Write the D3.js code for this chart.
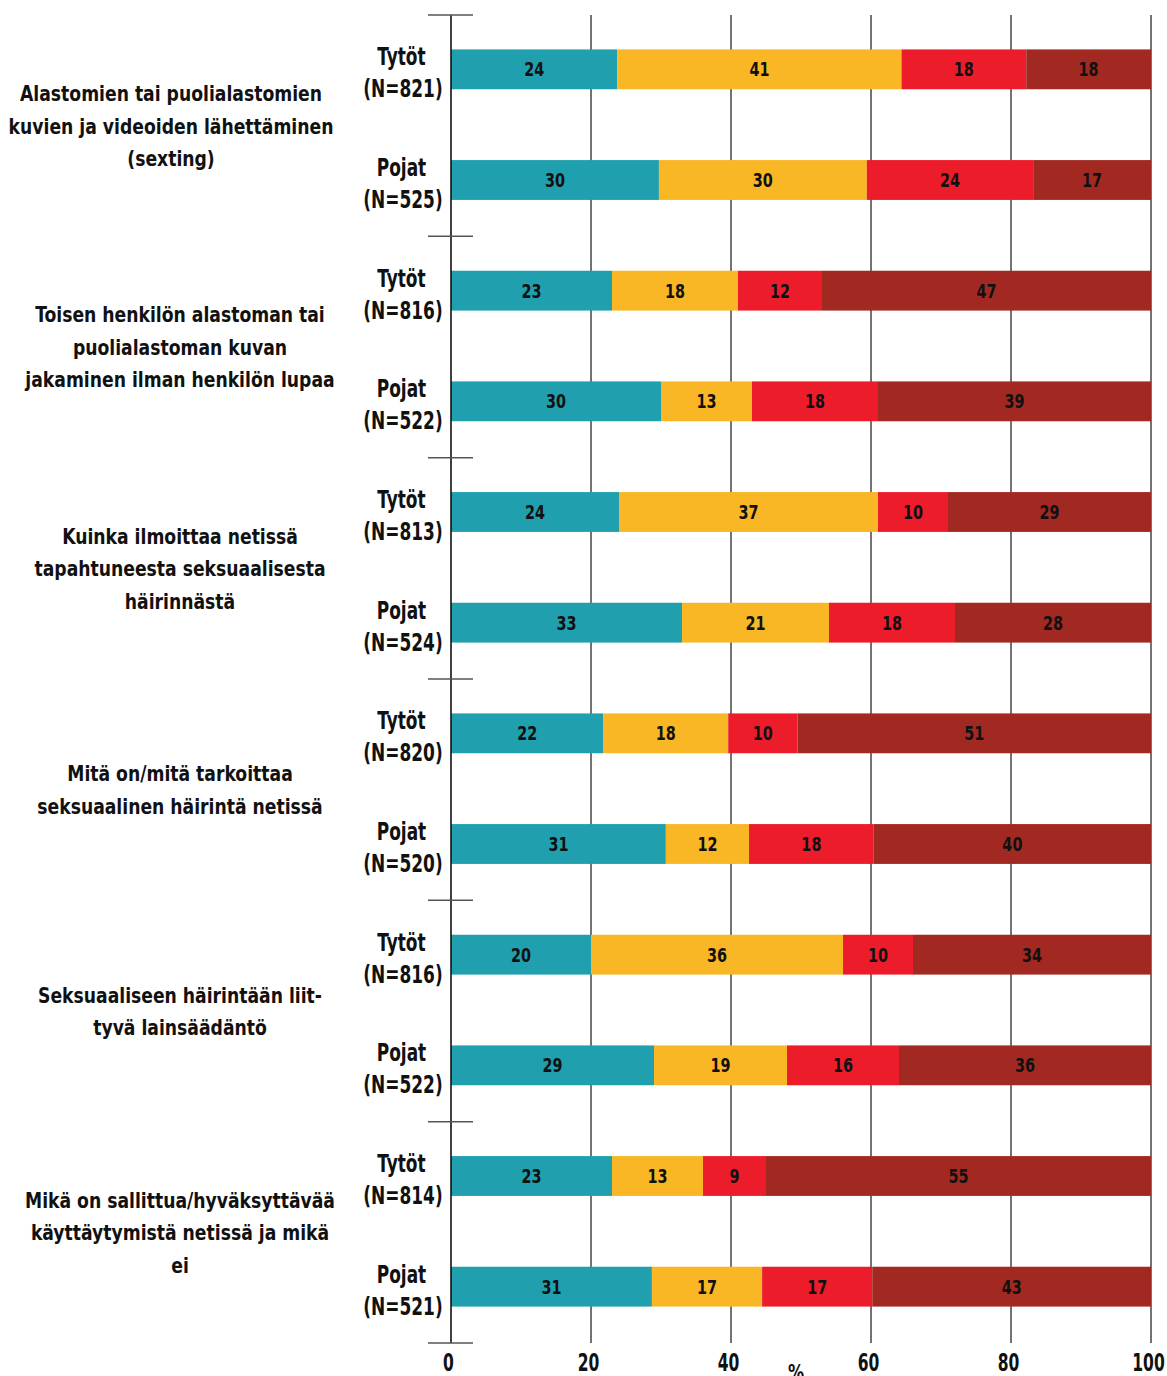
<!DOCTYPE html>
<html><head><meta charset="utf-8">
<script src="https://cdn.jsdelivr.net/npm/d3@7"></script>
<style>
html,body{margin:0;padding:0;background:#fff;}
svg{display:block;}
text{font-family:"DejaVu Sans Condensed","Liberation Sans Narrow",sans-serif;font-weight:bold;fill:#111;}
</style></head>
<body>
<svg id="chart" width="1167" height="1376"></svg>
<script>
// ---- data ----
const categories = [
  ["Alastomien tai puolialastomien","kuvien ja videoiden lähettäminen","(sexting)"],
  ["Toisen henkilön alastoman tai","puolialastoman kuvan","jakaminen ilman henkilön lupaa"],
  ["Kuinka ilmoittaa netissä","tapahtuneesta seksuaalisesta","häirinnästä"],
  ["Mitä on/mitä tarkoittaa","seksuaalinen häirintä netissä"],
  ["Seksuaaliseen häirintään liit-","tyvä lainsäädäntö"],
  ["Mikä on sallittua/hyväksyttävää","käyttäytymistä netissä ja mikä","ei"]
];
const groups = ["Tytöt","Pojat"];
const sampleSizes = [
  [821,525],[816,522],[813,524],[820,520],[816,522],[814,521]
];
const series1 = [24,30,23,30,24,33,22,31,20,29,23,31];
const series2 = [41,30,18,13,37,21,18,12,36,19,13,17];
const series3 = [18,24,12,18,10,18,10,18,10,16, 9,17];
const series4 = [18,17,47,39,29,28,51,40,34,36,55,43];
const tickValues = [0,20,40,60,80,100];
const axisTitle = "%";
const colors = ["#20a0ae","#f9b625","#ec1c2a","#a12922"];

// ---- layout ----
const svg = d3.select("#chart");
const plotTop = 14, plotBottom = 1342;
const x = d3.scaleLinear().domain([0,100]).range([451,1151]);
const rows = [];
categories.forEach((c,ci)=>groups.forEach((g,gi)=>rows.push({ci,gi,key:ci+"-"+gi})));
const y = d3.scaleBand().domain(rows.map(r=>r.key)).range([plotTop,plotBottom]).paddingInner(0.64).paddingOuter(0.32);
const step = y.step();

// gridlines
const grid = svg.append("g");
grid.selectAll("line").data(tickValues.filter(v=>v>0)).join("line")
  .attr("x1",d=>x(d)).attr("x2",d=>x(d)).attr("y1",plotTop+1).attr("y2",plotBottom+1)
  .attr("stroke","#444").attr("stroke-width",1.5);

// bars
const allSeries = [series1,series2,series3,series4];
const barData = [];
rows.forEach((r,i)=>{
  const vals = allSeries.map(s=>s[i]);
  const sum = d3.sum(vals);
  let acc = 0;
  vals.forEach((v,k)=>{
    const start = acc/sum*100; acc += v;
    const end = acc/sum*100;
    barData.push({row:r,k,v,start,end});
  });
});
const bars = svg.append("g");
bars.selectAll("rect").data(barData).join("rect")
  .attr("x",d=>x(d.start)).attr("width",d=>x(d.end)-x(d.start))
  .attr("y",d=>y(d.row.key)).attr("height",y.bandwidth())
  .attr("fill",d=>colors[d.k]);
bars.selectAll("text").data(barData).join("text")
  .attr("transform",d=>`translate(${(x(d.start)+x(d.end))/2},${y(d.row.key)+y.bandwidth()/2+7}) scale(0.8,1)`)
  .attr("text-anchor","middle").attr("font-size",20)
  .text(d=>d.v);

// zero axis line
svg.append("line").attr("x1",x(0)).attr("x2",x(0)).attr("y1",plotTop+1).attr("y2",plotBottom+1)
  .attr("stroke","#111").attr("stroke-width",1.6);

// group separators
const seps = d3.range(categories.length+1).map(i=>plotTop+1+i*2*step);
svg.append("g").selectAll("line").data(seps).join("line")
  .attr("x1",428).attr("x2",473).attr("y1",d=>d).attr("y2",d=>d)
  .attr("stroke","#555").attr("stroke-width",1.5);

// row labels
const rl = svg.append("g");
rows.forEach((r,i)=>{
  const cy = y(r.key)+y.bandwidth()/2;
  const t = rl.append("text").attr("text-anchor","middle").attr("font-size",24.5)
    .attr("transform","translate(403,0) scale(0.77,1)");
  t.append("tspan").attr("x",-2).attr("y",cy-4).text(groups[r.gi]);
  t.append("tspan").attr("x",0).attr("y",cy+28).text("(N="+sampleSizes[r.ci][r.gi]+")");
});

// category labels
const cl = svg.append("g");
categories.forEach((lines,ci)=>{
  const cy = plotTop+1+(ci*2+1)*step;
  const lh = 32.5;
  const t = cl.append("text").attr("text-anchor","middle").attr("font-size",21.5)
    .attr("transform",`translate(${ci===0?171:180},0) scale(0.89,1)`);
  lines.forEach((ln,li)=>{
    t.append("tspan").attr("x",0)
      .attr("y",cy+(li-(lines.length-1)/2)*lh+8).text(ln);
  });
});

// x axis
const ax = svg.append("g").attr("transform",`translate(-3,${plotBottom+1})`)
  .call(d3.axisBottom(x).tickValues(tickValues).tickSize(0).tickPadding(11).tickFormat(d3.format("d")));
ax.select(".domain").remove();
ax.attr("font-family",null).attr("font-size",null);
ax.selectAll("text").attr("font-size",24).attr("transform","scale(0.72,1)").style("fill","#111");

svg.append("text").attr("transform","translate(796,1380) scale(0.85,1)").attr("text-anchor","middle").attr("font-size",21).text(axisTitle);
</script>
</body></html>
